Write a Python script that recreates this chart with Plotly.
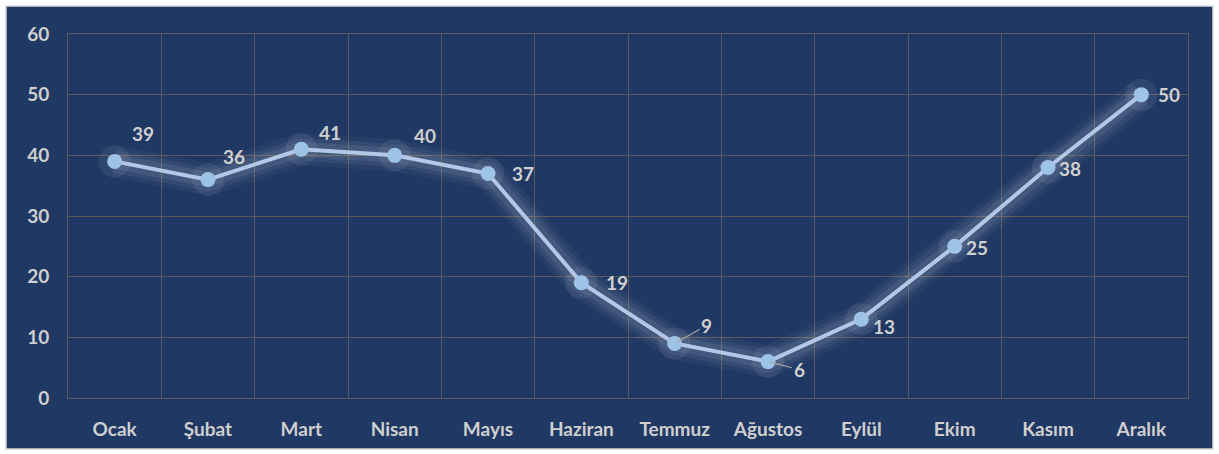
import plotly.graph_objects as go

months = ["Ocak", "Şubat", "Mart", "Nisan", "Mayıs", "Haziran",
          "Temmuz", "Ağustos", "Eylül", "Ekim", "Kasım", "Aralık"]
values = [39, 36, 41, 40, 37, 19, 9, 6, 13, 25, 38, 50]
y_ticks = [0, 10, 20, 30, 40, 50, 60]

# label offsets (pixels) per point, roughly as placed in the original
label_dx = [28, 26, 29, 30, 35, 36, 32, 31, 23, 22, 22, 28]
label_dy = [28, 23, 17, 20, 0, 0, 18, -8, -7, -1, -1, 0]

navy = "#203864"
grid = "#595959"
txt = "#CFCFCF"
font_family = "Lato, 'Open Sans', sans-serif"

fig = go.Figure()

# soft glow under the line
for w, a in [(32, 0.04), (23, 0.06), (15, 0.08)]:
    fig.add_trace(go.Scatter(
        x=months, y=values, mode="lines",
        line=dict(color=f"rgba(255,255,255,{a})", width=w, shape="linear"),
        hoverinfo="skip", showlegend=False,
    ))
fig.add_trace(go.Scatter(
    x=months, y=values, mode="markers",
    marker=dict(size=32, color="rgba(255,255,255,0.07)"),
    hoverinfo="skip", showlegend=False,
))

fig.add_trace(go.Scatter(
    x=months, y=values, mode="lines+markers",
    line=dict(color="#B4C7E7", width=4),
    marker=dict(size=15, color="#9DC3E6"),
    showlegend=False,
))

lab_font = dict(family=font_family, size=19, color=txt, weight="bold")
for i, (m, v) in enumerate(zip(months, values)):
    if m in ("Temmuz", "Ağustos"):
        fig.add_annotation(
            x=m, y=v, text=str(v), showarrow=True, arrowhead=0,
            arrowcolor="#A6A6A6", arrowwidth=1.2,
            ax=label_dx[i], ay=-label_dy[i], standoff=2,
            font=lab_font,
        )
    else:
        fig.add_annotation(
            x=m, y=v, text=str(v), showarrow=False,
            xshift=label_dx[i], yshift=label_dy[i],
            font=lab_font,
        )

# navy panel with light frame
fig.add_shape(
    type="rect", xref="paper", yref="paper", layer="below",
    x0=-0.0554, x1=1.0223, y0=-0.1401, y1=1.0769,
    fillcolor=navy, line=dict(color="#D9D9D9", width=1.5),
)

tick_font = dict(family=font_family, size=19, color=txt, weight="bold")
fig.update_layout(
    width=1219, height=454,
    margin=dict(l=68, r=31, t=34, b=56),
    paper_bgcolor="white",
    plot_bgcolor=navy,
    font=dict(family=font_family, size=19, color=txt),
    xaxis=dict(
        type="category", tickson="boundaries", range=[-0.5, 11.5],
        showgrid=True, gridcolor=grid, gridwidth=1,
        showline=True, linecolor=grid, linewidth=1, mirror=True,
        ticks="", ticklabelstandoff=14, automargin=False,
        tickfont=tick_font, zeroline=False,
    ),
    yaxis=dict(
        range=[0, 60], tickvals=y_ticks,
        showgrid=True, gridcolor=grid, gridwidth=1,
        showline=True, linecolor=grid, linewidth=1, mirror=True,
        ticks="", ticklabelstandoff=14, automargin=False,
        tickfont=tick_font, zeroline=False,
    ),
)

# drop the default page margin so the figure sits at the window corner
fig.write_html("out.html", config={"displayModeBar": False},
               post_script="document.body.style.margin='0';")
